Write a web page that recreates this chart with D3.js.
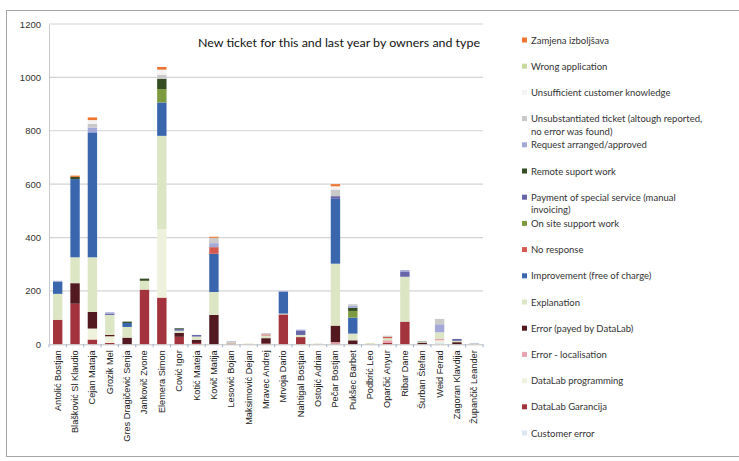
<!DOCTYPE html>
<html>
<head>
<meta charset="utf-8">
<script src="https://cdn.jsdelivr.net/npm/d3@7"></script>
<style>
  html, body { margin: 0; padding: 0; background: #fff; }
  svg { display: block; font-family: Lato, "Open Sans", sans-serif; }
</style>
</head>
<body>
<svg id="chart" width="739" height="461"></svg>
<script>
const title = "New ticket for this and last year by owners and type";
const owners = ["Antolić Bostjan","Blašković Sl Klaudio","Cejan Mataja","Grozik Mel","Gres Dragičević Senja","Jankovič Zvone","Elemera Simon","Cović Igor","Kotić Mateja","Kovič Matija","Lesović Bojan","Maksimović Dejan","Mravec Andrej","Mrvoja Dario","Nahtigal Bostjan","Ostojić Adrian","Pečar Bostjan","Pukšec Barbet","Podbrić Leo","Oparčić Anyur","Ribar Dane","Šurban Štefan","Weid Ferad","Zagoran Klavdija","Župančič Leander"];
const types = ["Customer error","DataLab Garancija","DataLab programming","Error - localisation","Error (payed by DataLab)","Explanation","Improvement (free of charge)","No response","On site support work","Payment of special service (manual invoicing)","Remote suport work","Request arranged/approved","Unsubstantiated ticket (altough reported, no error was found)","Unsufficient customer knowledge","Wrong application","Zamjena izboljšava"];
const typeColors = ["#dce6f2","#a3333d","#eef2dc","#e6a5b0","#521a20","#dce5c4","#3a66ae","#d45a50","#7e9a40","#6666a8","#344d22","#a3a8d6","#c9c9c9","#f3f3f3","#c8d9a0","#ee7530"];
const yTicks = [0,200,400,600,800,1000,1200];

// one array per type, values in owner order
const customerError      = [0,0,0,0,0,0,0,0,0,0,0,0,0,0,0,0,0,0,0,0,0,0,5,0,0];
const garancija          = [92,152,18,5,0,205,175,28,5,0,3,0,3,112,27,0,3,0,0,5,85,0,0,0,0];
const programming        = [0,0,41,25,0,0,257,0,0,0,0,0,0,0,0,0,0,0,0,0,0,0,10,0,0];
const errorLocalisation  = [0,0,0,0,0,0,0,0,0,0,0,0,0,0,0,0,5,0,0,10,0,0,5,0,0];
const errorPayed         = [0,77,62,5,25,0,0,15,12,110,0,0,20,0,0,0,62,15,0,0,0,5,0,8,0];
const explanation        = [97,97,205,75,40,33,349,8,12,86,5,3,10,3,8,3,232,25,5,8,168,3,25,5,3];
const improvement        = [46,293,468,0,15,0,125,0,0,143,0,0,0,82,0,0,243,60,0,0,0,0,0,0,0];
const noResponse         = [0,0,0,0,0,0,0,0,0,25,0,0,4,0,0,0,0,0,0,5,0,0,0,0,0];
const onSite             = [0,0,0,0,0,0,50,0,0,0,0,0,0,0,0,0,0,25,0,0,0,0,0,0,0];
const payment            = [0,0,0,5,0,0,0,6,6,0,2,0,0,0,15,0,10,0,0,0,18,0,0,7,0];
const remote             = [0,8,0,0,5,8,38,3,0,0,0,0,0,0,0,0,0,12,0,0,0,2,0,0,0];
const request            = [3,0,18,5,0,0,0,0,0,15,0,0,0,3,5,0,0,8,0,0,7,0,30,0,2];
const unsubstantiated    = [0,0,14,0,0,0,15,0,0,20,0,0,5,0,0,0,25,5,0,4,0,0,20,0,0];
const unsufficient       = [0,0,14,0,0,0,20,0,0,0,0,0,0,0,0,0,12,0,0,0,0,0,0,0,0];
const wrongApplication   = [0,0,0,0,0,0,0,0,0,0,0,0,0,0,0,0,0,0,0,0,0,0,0,0,0];
const zamjena            = [0,5,10,0,0,0,10,0,0,4,0,0,0,0,0,0,8,0,0,0,0,0,0,0,0];

const seriesValues = [customerError,garancija,programming,errorLocalisation,errorPayed,explanation,improvement,noResponse,onSite,payment,remote,request,unsubstantiated,unsufficient,wrongApplication,zamjena];

const rows = owners.map((o, i) => {
  const r = { owner: o };
  types.forEach((t, k) => r[t] = seriesValues[k][i]);
  return r;
});

const svg = d3.select("#chart");
const m = { left: 49, right: 483, top: 24, bottom: 344.3 };

// outer frame
svg.append("rect").attr("x", 6.5).attr("y", 10.5).attr("width", 740).attr("height", 446)
  .attr("fill", "none").attr("stroke", "#a6a6a6").attr("stroke-width", 1);

const x = d3.scaleBand().domain(owners).range([m.left, m.right]).paddingInner(0.46).paddingOuter(0.23);
const y = d3.scaleLinear().domain([0, 1200]).range([m.bottom, m.top]);

// gridlines
svg.append("g").selectAll("line").data(yTicks.filter(d => d > 0)).join("line")
  .attr("x1", m.left).attr("x2", m.right)
  .attr("y1", d => y(d)).attr("y2", d => y(d))
  .attr("stroke", "#d4d4d4").attr("stroke-width", 1.2);

// y axis
const yAxis = d3.axisLeft(y).tickValues(yTicks).tickSize(0).tickPadding(8).tickFormat(d3.format("d"));
const gy = svg.append("g").attr("transform", `translate(${m.left},0)`).call(yAxis);
gy.select(".domain").attr("stroke", "#c8c8c8");
gy.selectAll("text").attr("font-size", 9.5).attr("fill", "#333");

// stacked bars
const stack = d3.stack().keys(types)(rows);
svg.append("g").selectAll("g").data(stack).join("g")
  .attr("fill", (d, i) => typeColors[i])
  .selectAll("rect").data(d => d).join("rect")
  .attr("x", d => x(d.data.owner))
  .attr("width", x.bandwidth())
  .attr("y", d => y(d[1]))
  .attr("height", d => Math.max(0, y(d[0]) - y(d[1])));

// x axis
const xAxis = d3.axisBottom(x).tickSize(0).tickPadding(0);
const gx = svg.append("g").attr("transform", `translate(0,${m.bottom})`).call(xAxis);
gx.select(".domain").attr("stroke", "#bfbfbf");
gx.selectAll("text")
  .attr("font-size", 9.2)
  .attr("fill", "#222")
  .attr("text-anchor", "end")
  .attr("dy", "0.32em")
  .attr("transform", "translate(0,6) rotate(-90)");
// tick marks between categories
const step = x.step();
svg.append("g").selectAll("line").data(d3.range(owners.length + 1)).join("line")
  .attr("x1", i => m.left + i * step).attr("x2", i => m.left + i * step)
  .attr("y1", m.bottom).attr("y2", m.bottom + 3)
  .attr("stroke", "#9fb3d0");

// title
svg.append("text").attr("x", 198).attr("y", 47).attr("font-size", 11.5).attr("fill", "#111")
  .attr("textLength", 282).attr("lengthAdjust", "spacingAndGlyphs")
  .text(title);

// legend
const legendOrder = types.map((t, i) => i).reverse();
const lg = svg.append("g");
legendOrder.forEach((k, j) => {
  const cy = 40 + j * 26.2;
  lg.append("rect").attr("x", 522).attr("y", cy - 2.5).attr("width", 5).attr("height", 5)
    .attr("fill", typeColors[k]);
  const name = types[k];
  let lines = [name];
  if (name.startsWith("Unsubstantiated")) lines = ["Unsubstantiated ticket (altough reported,", "no error was found)"];
  if (name.startsWith("Payment")) lines = ["Payment of special service (manual", "invoicing)"];
  lines.forEach((ln, li) => {
    lg.append("text").attr("x", 531).attr("y", cy + 3.5 + li * 12.5)
      .attr("font-size", 9.5).attr("fill", "#333").text(ln);
  });
});
</script>
</body>
</html>
